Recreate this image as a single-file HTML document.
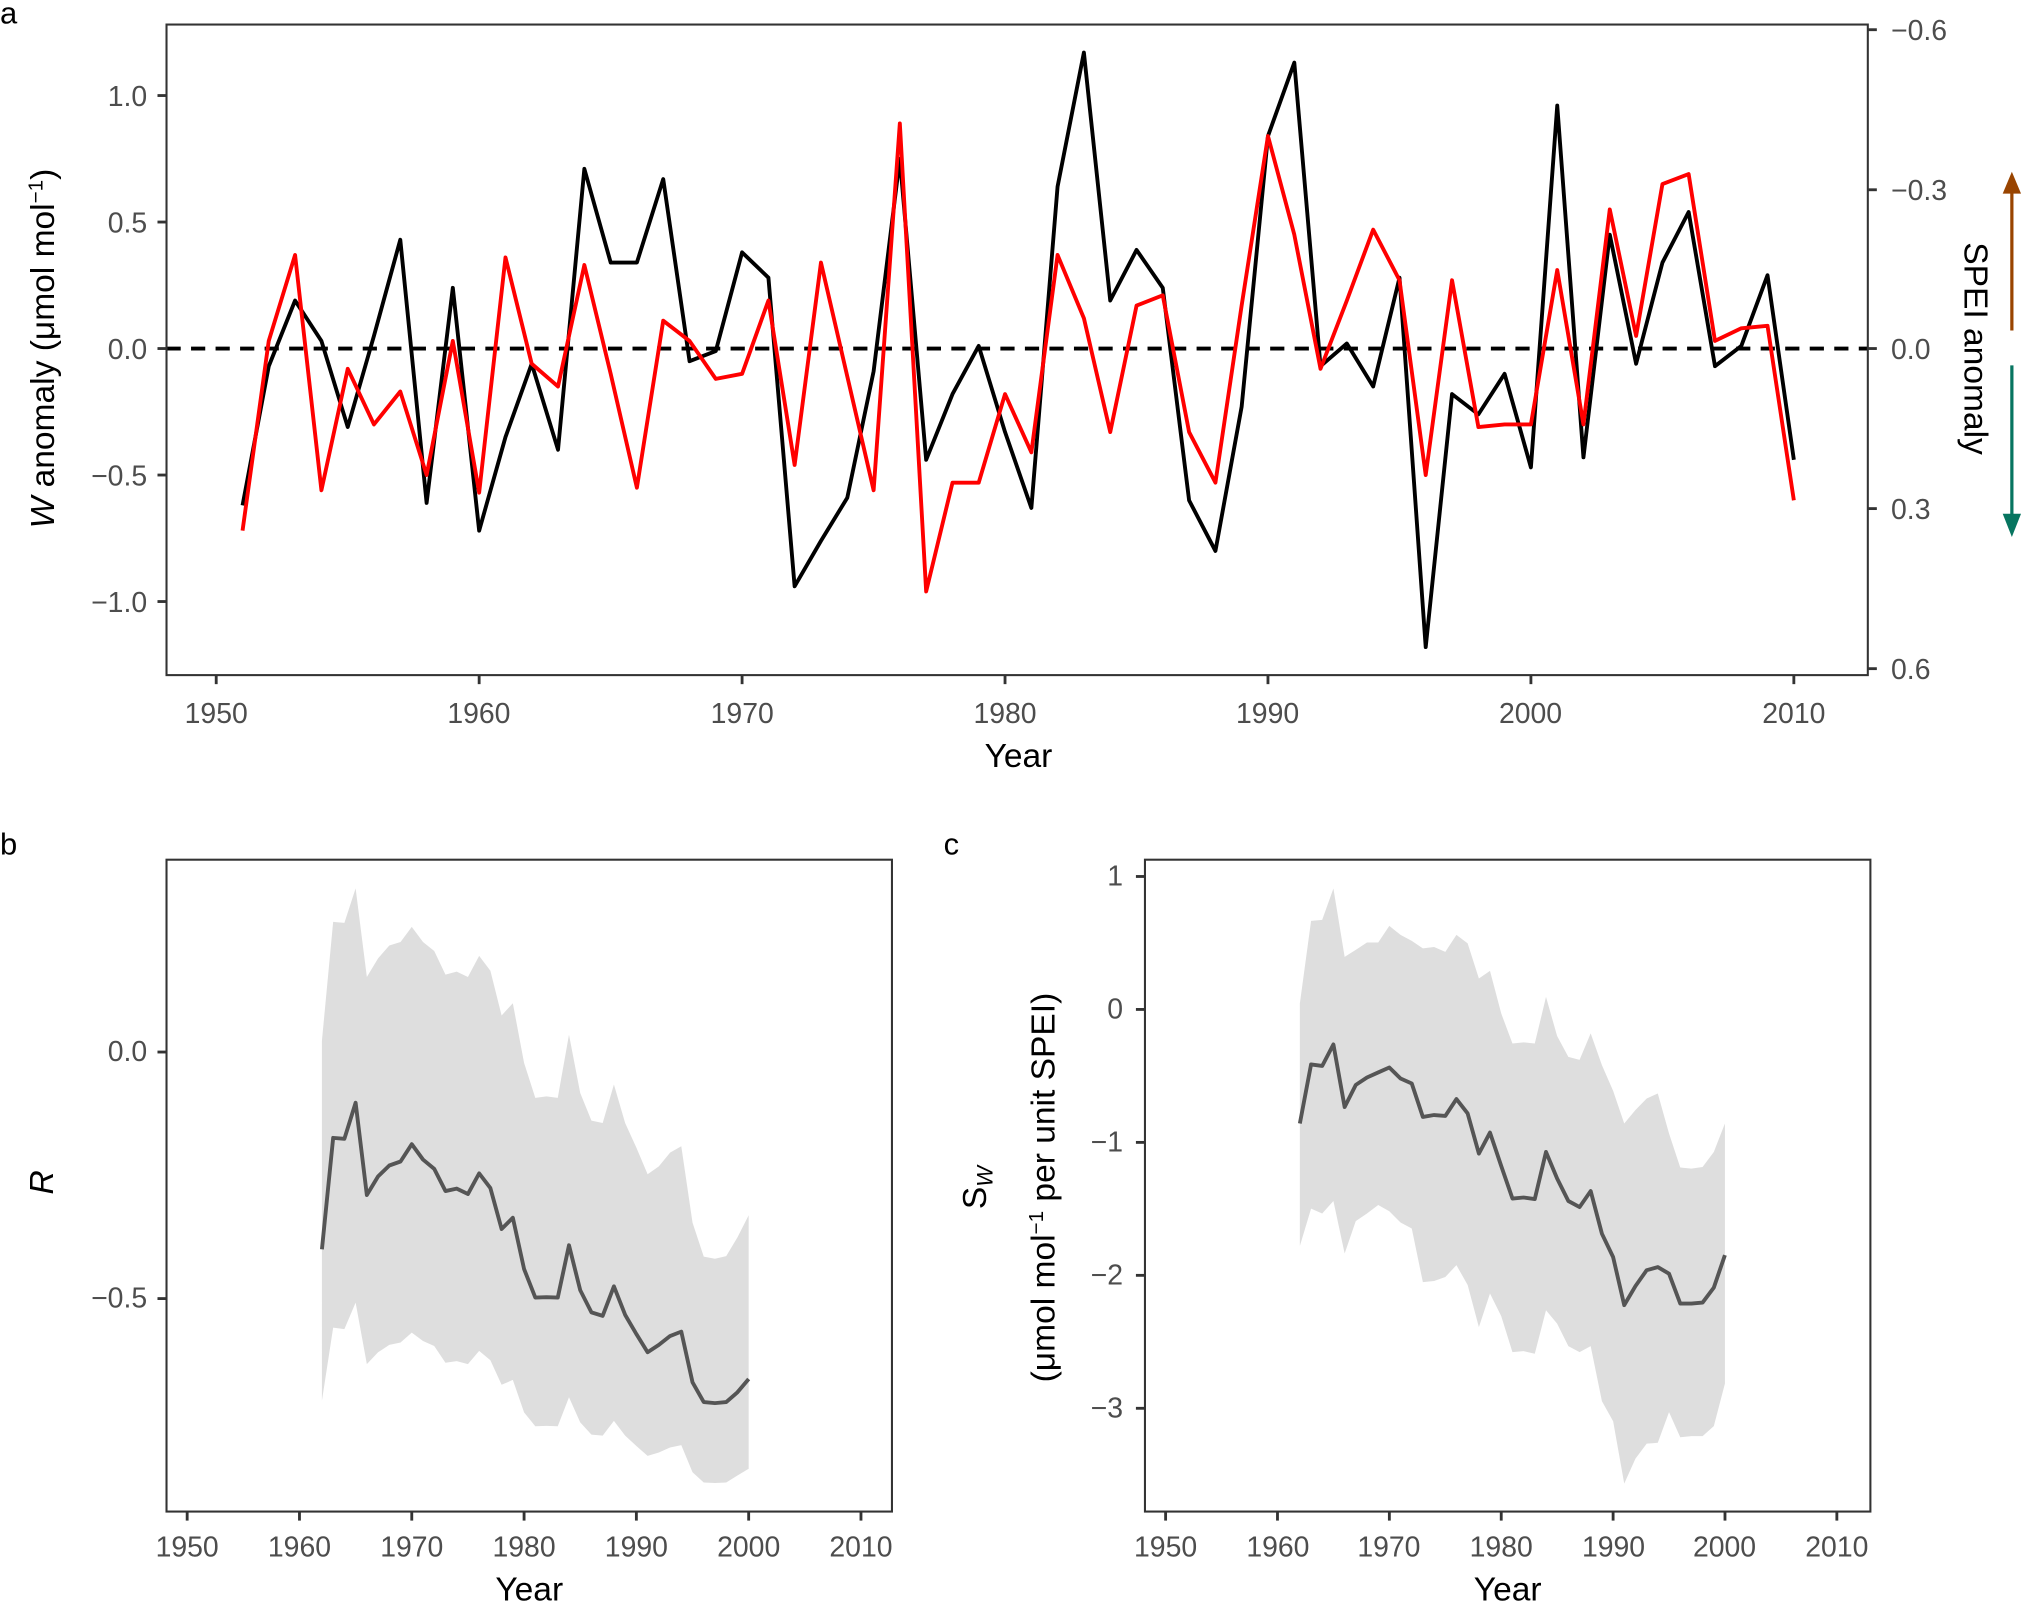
<!DOCTYPE html>
<html><head><meta charset="utf-8"><style>
html,body{margin:0;padding:0;background:#fff;}
svg{display:block;}
text{font-family:"Liberation Sans",Arial,sans-serif;}
.tk{font-size:22px;fill:#4d4d4d;}
.ti{font-size:26px;fill:#000;}
.pl{font-size:24px;fill:#000;}
</style></head><body>
<svg id="s" width="2024" height="1604" viewBox="0 0 1568 1242.6" xmlns="http://www.w3.org/2000/svg">
<rect width="1568" height="1242.6" fill="#fff"/>
<g id="g"></g>
<text class="pl" x="0" y="18">a</text>
<g class="tk" text-anchor="end">
<text x="114" y="82">1.0</text><text x="114" y="180">0.5</text><text x="114" y="278">0.0</text>
<text x="114" y="376">−0.5</text><text x="114" y="474">−1.0</text>
</g>
<g class="tk" text-anchor="start">
<text x="1465" y="31">−0.6</text><text x="1465" y="155">−0.3</text><text x="1465" y="278">0.0</text>
<text x="1465" y="402">0.3</text><text x="1465" y="526">0.6</text>
</g>
<g class="tk" text-anchor="middle">
<text x="167.5" y="560">1950</text><text x="371" y="560">1960</text><text x="575" y="560">1970</text>
<text x="778.6" y="560">1980</text><text x="982" y="560">1990</text><text x="1185.7" y="560">2000</text><text x="1389.7" y="560">2010</text>
</g>
<text class="ti" x="789" y="594" text-anchor="middle">Year</text>
<text class="ti" transform="translate(42,270) rotate(-90)" text-anchor="middle"><tspan font-style="italic">W</tspan> anomaly (μmol mol<tspan dy="-9" font-size="16">−1</tspan><tspan dy="9">)</tspan></text>
<text class="ti" transform="translate(1522,270) rotate(90)" text-anchor="middle">SPEI anomaly</text>
<text class="pl" x="0" y="662">b</text>
<g class="tk" text-anchor="end">
<text x="114" y="822">0.0</text><text x="114" y="1013">−0.5</text>
</g>
<g class="tk" text-anchor="middle">
<text x="145" y="1206">1950</text><text x="232" y="1206">1960</text><text x="319" y="1206">1970</text>
<text x="406" y="1206">1980</text><text x="493" y="1206">1990</text><text x="580" y="1206">2000</text><text x="667" y="1206">2010</text>
</g>
<text class="ti" x="410" y="1240" text-anchor="middle">Year</text>
<text class="ti" transform="translate(41,916) rotate(-90)" text-anchor="middle" font-style="italic">R</text>
<text class="pl" x="731" y="662">c</text>
<g class="tk" text-anchor="end">
<text x="870" y="686">1</text><text x="870" y="789">0</text><text x="870" y="892">−1</text>
<text x="870" y="995">−2</text><text x="870" y="1098">−3</text>
</g>
<g class="tk" text-anchor="middle">
<text x="903" y="1206">1950</text><text x="990" y="1206">1960</text><text x="1076" y="1206">1970</text>
<text x="1163" y="1206">1980</text><text x="1250" y="1206">1990</text><text x="1336" y="1206">2000</text><text x="1423" y="1206">2010</text>
</g>
<text class="ti" x="1168" y="1240" text-anchor="middle">Year</text>
<text class="ti" transform="translate(764,920) rotate(-90)" text-anchor="middle">S<tspan font-size="17" dy="5" font-style="italic">W</tspan></text>
<text class="ti" transform="translate(817,920) rotate(-90)" text-anchor="middle">(μmol mol<tspan dy="-9" font-size="16">−1</tspan><tspan dy="9"> per unit SPEI)</tspan></text>
</svg>
<script>
var g=document.getElementById('g');var h='';
function P(pts,c,w,extra){return '<polyline fill="none" stroke="'+c+'" stroke-width="'+w+'" stroke-linejoin="round" points="'+pts.map(function(p){return p[0].toFixed(1)+','+p[1].toFixed(1)}).join(' ')+'" '+(extra||'')+'/>';}
var blk=[-0.62,-0.07,0.19,0.03,-0.31,0.05,0.43,-0.61,0.24,-0.72,-0.35,-0.06,-0.40,0.71,0.34,0.34,0.67,-0.05,-0.01,0.38,0.28,-0.94,-0.76,-0.59,-0.09,0.75,-0.44,-0.18,0.01,-0.33,-0.63,0.64,1.17,0.19,0.39,0.24,-0.60,-0.80,-0.23,0.84,1.13,-0.07,0.02,-0.15,0.28,-1.18,-0.18,-0.26,-0.10,-0.47,0.96,-0.43,0.45,-0.06,0.34,0.54,-0.07,0.01,0.29,-0.44];
var red=[-0.72,0.03,0.37,-0.56,-0.08,-0.30,-0.17,-0.50,0.03,-0.57,0.36,-0.06,-0.15,0.33,-0.10,-0.55,0.11,0.03,-0.12,-0.10,0.19,-0.46,0.34,-0.11,-0.56,0.89,-0.96,-0.53,-0.53,-0.18,-0.41,0.37,0.12,-0.33,0.17,0.21,-0.33,-0.53,0.17,0.84,0.45,-0.08,0.19,0.47,0.27,-0.50,0.27,-0.31,-0.30,-0.30,0.31,-0.30,0.55,0.05,0.65,0.69,0.03,0.08,0.09,-0.60];
function ax(y){return 167.5+(y-1950)*20.37;} function ay(v){return 270-v*196;}
h+='<line x1="129" y1="270" x2="1447" y2="270" stroke="#000" stroke-width="3" stroke-dasharray="11,8"/>';
h+=P(blk.map(function(v,i){return [ax(1951+i),ay(v)]}),'#000',3);
h+=P(red.map(function(v,i){return [ax(1951+i),ay(v)]}),'#ff0000',3);
h+='<rect x="129" y="19" width="1318" height="504" fill="none" stroke="#333" stroke-width="1.6"/>';
[1,0.5,0,-0.5,-1].forEach(function(v){h+='<line x1="122" x2="129" y1="'+ay(v)+'" y2="'+ay(v)+'" stroke="#333" stroke-width="2.2"/>';});
[23,147,270,394,518].forEach(function(y){h+='<line x1="1447" x2="1454" y1="'+y+'" y2="'+y+'" stroke="#333" stroke-width="2.2"/>';});
for(var yr=1950;yr<=2010;yr+=10){h+='<line x1="'+ax(yr)+'" x2="'+ax(yr)+'" y1="523" y2="530" stroke="#333" stroke-width="2.2"/>';}
h+='<line x1="1558.6" y1="256" x2="1558.6" y2="148" stroke="#994400" stroke-width="2.5"/><polygon points="1551.5,150 1565.7,150 1558.6,133" fill="#994400"/>';
h+='<line x1="1558.6" y1="283" x2="1558.6" y2="400" stroke="#077560" stroke-width="2.5"/><polygon points="1551.5,398 1565.7,398 1558.6,416" fill="#077560"/>';
var bl=[-0.40,-0.174,-0.176,-0.103,-0.29,-0.252,-0.23,-0.222,-0.187,-0.218,-0.237,-0.282,-0.277,-0.288,-0.246,-0.276,-0.359,-0.336,-0.44,-0.498,-0.497,-0.498,-0.392,-0.483,-0.528,-0.535,-0.475,-0.533,-0.572,-0.609,-0.594,-0.576,-0.567,-0.67,-0.71,-0.712,-0.71,-0.69,-0.663];
var bu=[0.023,0.264,0.262,0.332,0.152,0.19,0.216,0.223,0.254,0.223,0.205,0.157,0.163,0.152,0.195,0.165,0.074,0.099,-0.022,-0.093,-0.09,-0.093,0.035,-0.083,-0.139,-0.144,-0.066,-0.144,-0.194,-0.248,-0.232,-0.204,-0.191,-0.346,-0.415,-0.419,-0.414,-0.376,-0.331];
var bd=[-0.707,-0.559,-0.562,-0.508,-0.633,-0.609,-0.594,-0.589,-0.569,-0.586,-0.596,-0.63,-0.627,-0.633,-0.606,-0.625,-0.675,-0.665,-0.731,-0.759,-0.758,-0.759,-0.70,-0.751,-0.776,-0.778,-0.748,-0.778,-0.799,-0.819,-0.812,-0.802,-0.797,-0.852,-0.873,-0.874,-0.873,-0.859,-0.845];
function bx(y){return 145+(y-1950)*8.7;} function by(v){return 815-v*382;}
function band(u,d,fx,fy){var pts=u.map(function(v,i){return [fx(1962+i),fy(v)]});for(var i=d.length-1;i>=0;i--)pts.push([fx(1962+i),fy(d[i])]);return '<polygon fill="#dedede" points="'+pts.map(function(p){return p[0].toFixed(1)+','+p[1].toFixed(1)}).join(' ')+'"/>';}
h+=band(bu,bd,bx,by);
h+=P(bl.map(function(v,i){return [bx(1962+i),by(v)]}),'#555',3);
h+='<rect x="129" y="666" width="562" height="505" fill="none" stroke="#333" stroke-width="1.6"/>';
[0,-0.5].forEach(function(v){h+='<line x1="122" x2="129" y1="'+by(v)+'" y2="'+by(v)+'" stroke="#333" stroke-width="2.2"/>';});
for(var yr=1950;yr<=2010;yr+=10){h+='<line x1="'+bx(yr)+'" x2="'+bx(yr)+'" y1="1171" y2="1178" stroke="#333" stroke-width="2.2"/>';}
var cl=[-0.858,-0.414,-0.425,-0.263,-0.734,-0.568,-0.512,-0.474,-0.437,-0.519,-0.557,-0.809,-0.794,-0.801,-0.674,-0.783,-1.084,-0.926,-1.178,-1.422,-1.415,-1.426,-1.072,-1.272,-1.441,-1.486,-1.366,-1.686,-1.863,-2.224,-2.081,-1.961,-1.938,-1.987,-2.213,-2.213,-2.205,-2.092,-1.848];
var cu=[0.045,0.666,0.674,0.91,0.395,0.448,0.504,0.504,0.628,0.561,0.516,0.459,0.47,0.433,0.561,0.497,0.233,0.29,-0.03,-0.256,-0.248,-0.256,0.094,-0.2,-0.357,-0.38,-0.18,-0.418,-0.613,-0.858,-0.756,-0.67,-0.632,-0.933,-1.189,-1.197,-1.185,-1.072,-0.858];
var cd=[-1.78,-1.498,-1.535,-1.441,-1.836,-1.592,-1.535,-1.471,-1.517,-1.603,-1.648,-2.051,-2.043,-2.013,-1.923,-2.073,-2.389,-2.137,-2.307,-2.578,-2.57,-2.589,-2.262,-2.363,-2.532,-2.578,-2.532,-2.946,-3.097,-3.567,-3.379,-3.266,-3.259,-3.029,-3.217,-3.21,-3.21,-3.134,-2.815];
function cx(y){return 903+(y-1950)*8.667;} function cy(v){return 782-v*103;}
h+=band(cu,cd,cx,cy);
h+=P(cl.map(function(v,i){return [cx(1962+i),cy(v)]}),'#555',3);
h+='<rect x="887" y="666" width="562" height="505" fill="none" stroke="#333" stroke-width="1.6"/>';
[1,0,-1,-2,-3].forEach(function(v){h+='<line x1="880" x2="887" y1="'+cy(v)+'" y2="'+cy(v)+'" stroke="#333" stroke-width="2.2"/>';});
for(var yr=1950;yr<=2010;yr+=10){h+='<line x1="'+cx(yr)+'" x2="'+cx(yr)+'" y1="1171" y2="1178" stroke="#333" stroke-width="2.2"/>';}
g.innerHTML=h;
</script>
</body></html>
